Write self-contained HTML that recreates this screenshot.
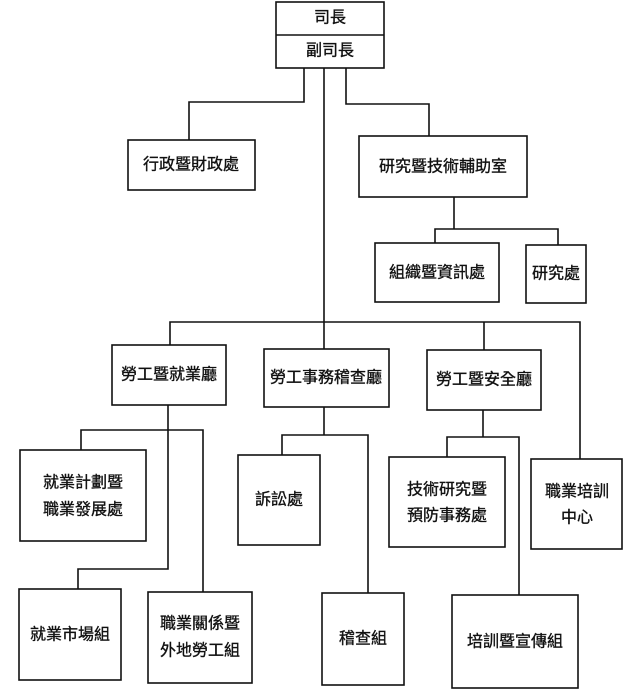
<!DOCTYPE html>
<html><head><meta charset="utf-8"><style>
html,body{margin:0;padding:0;background:#fff;}
svg{display:block;}
text{font-family:"Liberation Sans","Noto Sans CJK TC","WenQuanYi Zen Hei",sans-serif;font-size:16px;fill:#111;stroke:#111;stroke-width:0.35;text-anchor:middle;dominant-baseline:central;}
</style></head><body>
<svg width="624" height="696" viewBox="0 0 624 696" xmlns="http://www.w3.org/2000/svg">
<g fill="none" stroke="#111" stroke-width="1.6">
<rect x="276" y="2" width="108" height="66"/>
<line x1="276" y1="35" x2="384" y2="35"/>
<polyline points="304,68 304,102 189,102 189,140"/>
<polyline points="324,68 324,322"/>
<polyline points="346,68 346,104 429,104 429,136"/>
<polyline points="454,197 454,229"/>
<polyline points="435,243 435,229 558,229 558,245"/>
<rect x="128" y="140" width="127" height="50"/>
<rect x="359" y="136" width="168" height="61"/>
<rect x="375" y="243" width="124" height="59"/>
<rect x="526" y="245" width="60" height="58"/>
<polyline points="170,345 170,322 580,322 580,459"/>
<line x1="324" y1="322" x2="324" y2="349"/>
<line x1="484" y1="322" x2="484" y2="350"/>
<rect x="112" y="345" width="114" height="60"/>
<rect x="264" y="349" width="125" height="58"/>
<rect x="427" y="350" width="114" height="60"/>
<rect x="531" y="459" width="91" height="90"/>
<polyline points="168,405 168,569 78,569 78,589"/>
<polyline points="81,450 81,430 203,430 203,592"/>
<rect x="20" y="450" width="126" height="91"/>
<rect x="19" y="589" width="102" height="91"/>
<rect x="148" y="592" width="104" height="91"/>
<polyline points="324,407 324,435"/>
<polyline points="282,455 282,435 368,435 368,593"/>
<rect x="238" y="455" width="82" height="90"/>
<rect x="322" y="593" width="82" height="92"/>
<polyline points="483,410 483,437"/>
<polyline points="447,457 447,437 519,437 519,595"/>
<rect x="389" y="457" width="116" height="90"/>
<rect x="452" y="595" width="126" height="93"/>
</g>
<text x="330" y="18">司長</text>
<text x="330" y="51">副司長</text>
<text x="191" y="165">行政暨財政處</text>
<text x="443" y="167">研究暨技術輔助室</text>
<text x="437" y="273">組織暨資訊處</text>
<text x="556" y="274">研究處</text>
<text x="169" y="375">勞工暨就業廳</text>
<text x="326" y="378">勞工事務稽查廳</text>
<text x="484" y="380">勞工暨安全廳</text>
<text x="83" y="483">就業計劃暨</text>
<text x="83" y="510">職業發展處</text>
<text x="279" y="500">訴訟處</text>
<text x="447" y="490">技術研究暨</text>
<text x="447" y="516">預防事務處</text>
<text x="577" y="492">職業培訓</text>
<text x="577" y="518">中心</text>
<text x="70" y="635">就業市場組</text>
<text x="200" y="624">職業關係暨</text>
<text x="200" y="651">外地勞工組</text>
<text x="363" y="639">稽查組</text>
<text x="515" y="642">培訓暨宣傳組</text>
</svg>
</body></html>
